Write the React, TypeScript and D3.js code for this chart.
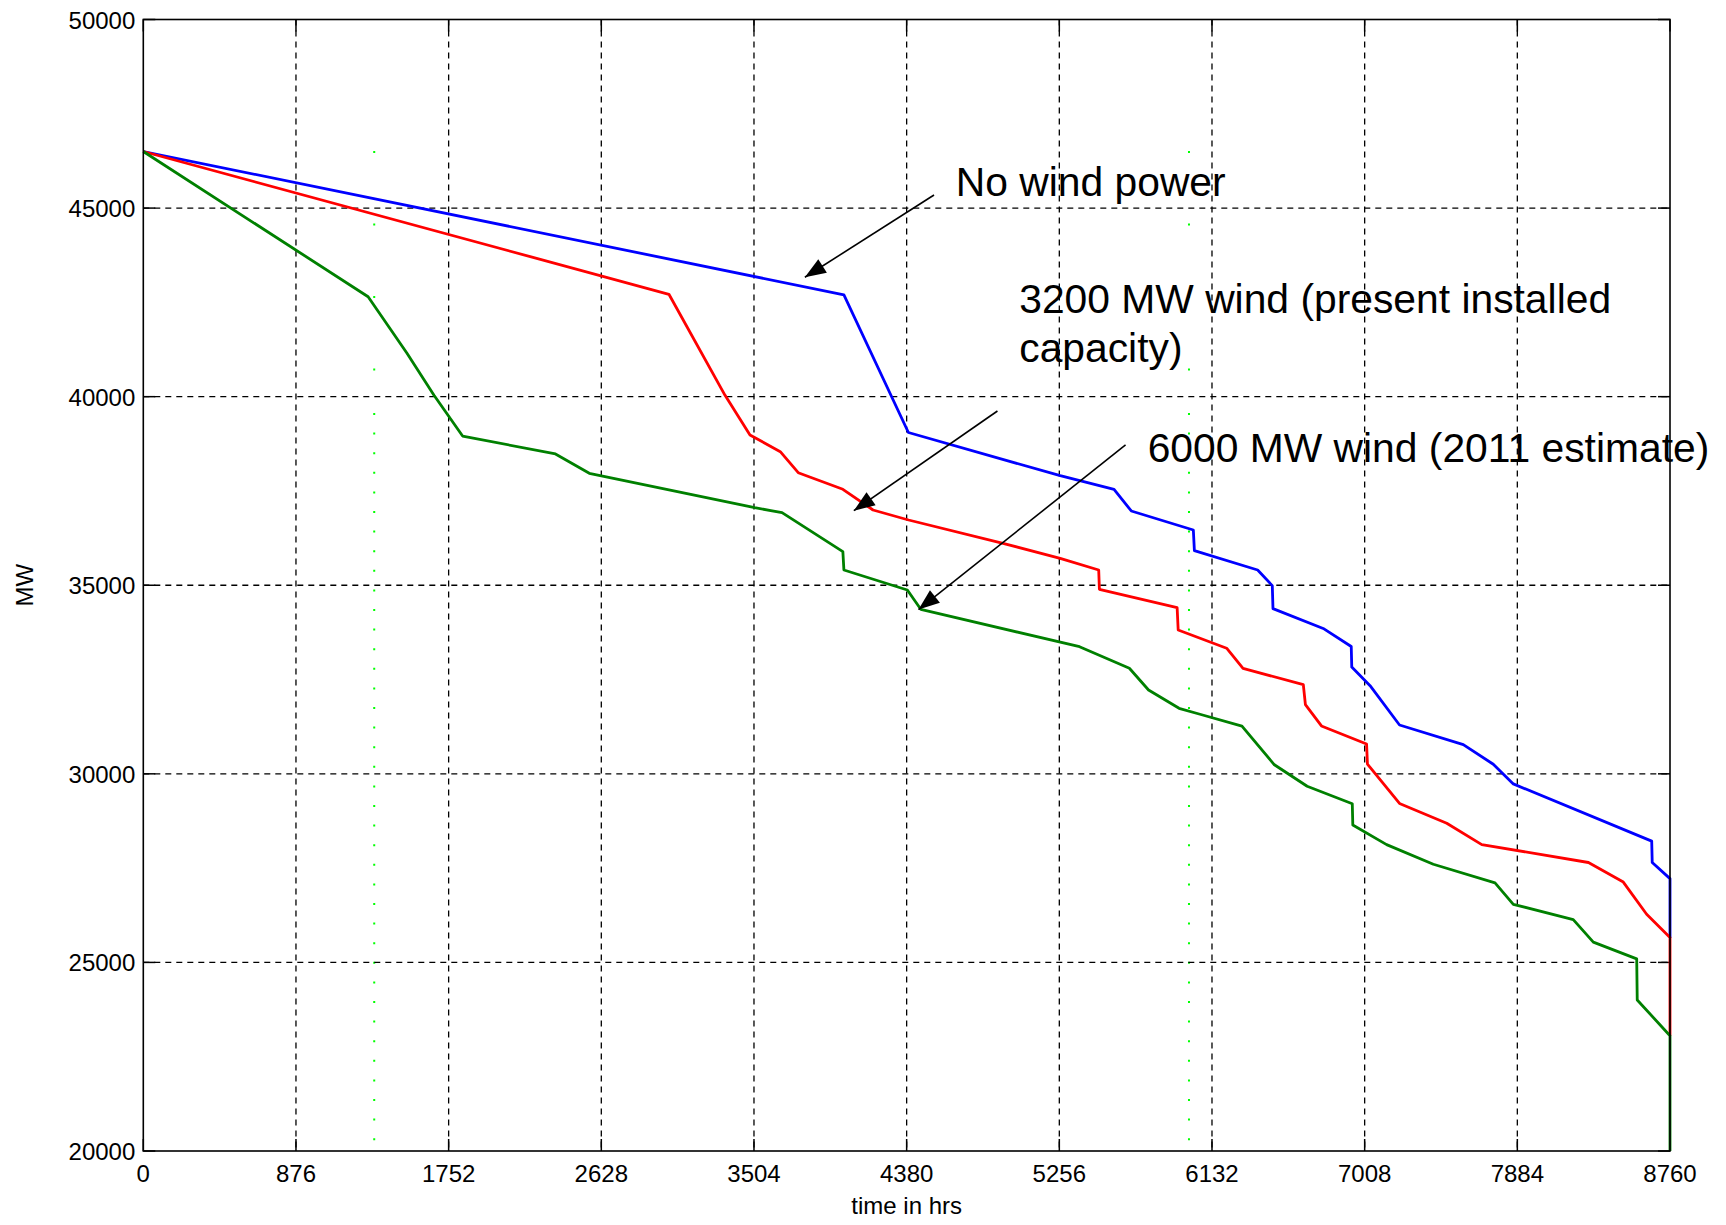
import React from 'react';
import * as d3 from 'd3';

// ---------- data ----------
const X_TICKS = [0, 876, 1752, 2628, 3504, 4380, 5256, 6132, 7008, 7884, 8760];
const Y_TICKS = [20000, 25000, 30000, 35000, 40000, 45000, 50000];
const X_LABEL = 'time in hrs';
const Y_LABEL = 'MW';

// load-duration curves [hour, MW]
const noWind: [number, number][] = [
  [0, 46500], [4020, 42700], [4390, 39050], [5261, 37905], [5570, 37544], [5669, 36969],
  [6025, 36465], [6031, 35916], [6394, 35404], [6478, 34990], [6482, 34380], [6770, 33855],
  [6931, 33375], [6934, 32830], [7039, 32337], [7208, 31295], [7574, 30775], [7746, 30253],
  [7861, 29733], [8655, 28217], [8658, 27649], [8760, 27222], [8760, 25650],
];
const wind3200: [number, number][] = [
  [0, 46500], [3016, 42714], [3338, 40036], [3481, 38984], [3655, 38541], [3758, 37984],
  [4014, 37544], [4187, 36995], [4391, 36730], [4933, 36112], [5261, 35714], [5482, 35404],
  [5486, 34893], [5932, 34405], [5938, 33814], [6216, 33331], [6310, 32795], [6656, 32366],
  [6668, 31835], [6760, 31270], [7019, 30790], [7024, 30260], [7208, 29215], [7479, 28691],
  [7680, 28124], [8292, 27649], [8492, 27130], [8626, 26276], [8760, 25661], [8760, 23057],
];
const wind6000: [number, number][] = [
  [0, 46500], [1290, 42650], [1513, 41150], [1668, 40036], [1832, 38957], [2365, 38480],
  [2559, 37968], [3508, 37056], [3665, 36924], [4014, 35890], [4020, 35404], [4384, 34874],
  [4461, 34363], [5372, 33371], [5658, 32798], [5768, 32223], [5943, 31738], [6063, 31579],
  [6304, 31265], [6490, 30240], [6678, 29670], [6937, 29205], [6940, 28644], [7134, 28124],
  [7402, 27602], [7756, 27109], [7861, 26541], [8205, 26135], [8320, 25539], [8569, 25093],
  [8572, 24004], [8760, 23057], [8760, 20000],
];
const SERIES = [
  { name: 'No wind power', data: noWind, color: '#0000ff' },
  { name: '3200 MW wind', data: wind3200, color: '#ff0000' },
  { name: '6000 MW wind', data: wind6000, color: '#008000' },
];
// light-green dotted marker lines (hours)
const MARKER_HOURS = [1325, 6000];

// annotations in data coordinates
const LABELS = [
  { lines: ['No wind power'], h: 4662, v: 45320 },
  { lines: ['3200 MW wind (present installed', 'capacity)'], h: 5026, v: 42218 },
  { lines: ['6000 MW wind (2011 estimate)'], h: 5763, v: 38268 },
];
const ARROWS = [
  { from: [4537, 45347], to: [3796, 43165] },
  { from: [4901, 39620], to: [4077, 36977] },
  { from: [5636, 38719], to: [4448, 34357] },
];

const W = 1726;
const H = 1225;
const M = { left: 143.3, right: 1670, top: 19.5, bottom: 1151 };
const FONT = "'Liberation Sans', Arial, Helvetica, sans-serif";

export default function App() {
  const x = d3.scaleLinear().domain([0, 8760]).range([M.left, M.right]);
  const y = d3.scaleLinear().domain([20000, 50000]).range([M.bottom, M.top]);
  const line = d3
    .line<[number, number]>()
    .x((d) => x(d[0]))
    .y((d) => y(d[1]));
  const tick = 12;

  const arrowHead = (fx: number, fy: number, tx: number, ty: number) => {
    const dx = tx - fx;
    const dy = ty - fy;
    const len = Math.hypot(dx, dy);
    const ux = dx / len;
    const uy = dy / len;
    const L = 21;
    const w = 8;
    const bx = tx - ux * L;
    const by = ty - uy * L;
    return `${tx},${ty} ${bx - uy * w},${by + ux * w} ${bx + uy * w},${by - ux * w}`;
  };

  return (
    <div style={{ position: 'absolute', left: 0, top: 0, width: W, height: H, background: '#fff' }}>
      <svg width={W} height={H} style={{ display: 'block' }} fontFamily={FONT}>
        <rect x={0} y={0} width={W} height={H} fill="#fff" />
        {/* marker dotted lines */}
        {MARKER_HOURS.map((h) => (
          <g key={'m' + h}>
            <line
              x1={x(h)}
              x2={x(h)}
              y1={151}
              y2={400}
              stroke="#00ff00"
              strokeWidth={2}
              strokeDasharray="2 70.5"
            />
            <line
              x1={x(h)}
              x2={x(h)}
              y1={413}
              y2={M.bottom}
              stroke="#00ff00"
              strokeWidth={2}
              strokeDasharray="2 17.6"
            />
          </g>
        ))}
        {/* grid */}
        {X_TICKS.slice(1, -1).map((t) => (
          <line
            key={'gx' + t}
            x1={x(t)}
            x2={x(t)}
            y1={M.top}
            y2={M.bottom}
            stroke="#000"
            strokeWidth={1.3}
            strokeDasharray="6 5"
          />
        ))}
        {Y_TICKS.slice(1, -1).map((t) => (
          <line
            key={'gy' + t}
            x1={M.left}
            x2={M.right}
            y1={y(t)}
            y2={y(t)}
            stroke="#000"
            strokeWidth={1.3}
            strokeDasharray="6 5"
          />
        ))}
        {/* ticks */}
        {X_TICKS.map((t) => (
          <g key={'tx' + t}>
            <line x1={x(t)} x2={x(t)} y1={M.bottom} y2={M.bottom - tick} stroke="#000" strokeWidth={1.5} />
            <line x1={x(t)} x2={x(t)} y1={M.top} y2={M.top + tick} stroke="#000" strokeWidth={1.5} />
            <text x={x(t)} y={M.bottom + 31} textAnchor="middle" fontSize={24} fill="#000">
              {t}
            </text>
          </g>
        ))}
        {Y_TICKS.map((t) => (
          <g key={'ty' + t}>
            <line x1={M.left} x2={M.left + tick} y1={y(t)} y2={y(t)} stroke="#000" strokeWidth={1.5} />
            <line x1={M.right} x2={M.right - tick} y1={y(t)} y2={y(t)} stroke="#000" strokeWidth={1.5} />
            <text x={M.left - 8} y={y(t) + 9} textAnchor="end" fontSize={24} fill="#000">
              {t}
            </text>
          </g>
        ))}
        {/* series */}
        {SERIES.map((s) => (
          <path
            key={s.name}
            d={line(s.data) || ''}
            fill="none"
            stroke={s.color}
            strokeWidth={2.8}
            strokeLinejoin="round"
          />
        ))}
        {/* axes box */}
        <rect
          x={M.left}
          y={M.top}
          width={M.right - M.left}
          height={M.bottom - M.top}
          fill="none"
          stroke="#000"
          strokeWidth={1.6}
        />
        {/* axis labels */}
        <text x={(M.left + M.right) / 2} y={1214} textAnchor="middle" fontSize={24} fill="#000">
          {X_LABEL}
        </text>
        <text
          transform={`translate(33, ${(M.top + M.bottom) / 2}) rotate(-90)`}
          textAnchor="middle"
          fontSize={24}
          fill="#000"
        >
          {Y_LABEL}
        </text>
        {/* annotations */}
        {ARROWS.map((a, i) => {
          const fx = x(a.from[0]);
          const fy = y(a.from[1]);
          const tx = x(a.to[0]);
          const ty = y(a.to[1]);
          return (
            <g key={'a' + i}>
              <line x1={fx} y1={fy} x2={tx} y2={ty} stroke="#000" strokeWidth={1.6} />
              <polygon points={arrowHead(fx, fy, tx, ty)} fill="#000" />
            </g>
          );
        })}
        {LABELS.map((l, i) => (
          <text key={'l' + i} x={x(l.h)} y={y(l.v)} fontSize={40.8} fill="#000">
            {l.lines.map((s, j) => (
              <tspan key={j} x={x(l.h)} dy={j === 0 ? 0 : 49}>
                {s}
              </tspan>
            ))}
          </text>
        ))}
      </svg>
    </div>
  );
}
